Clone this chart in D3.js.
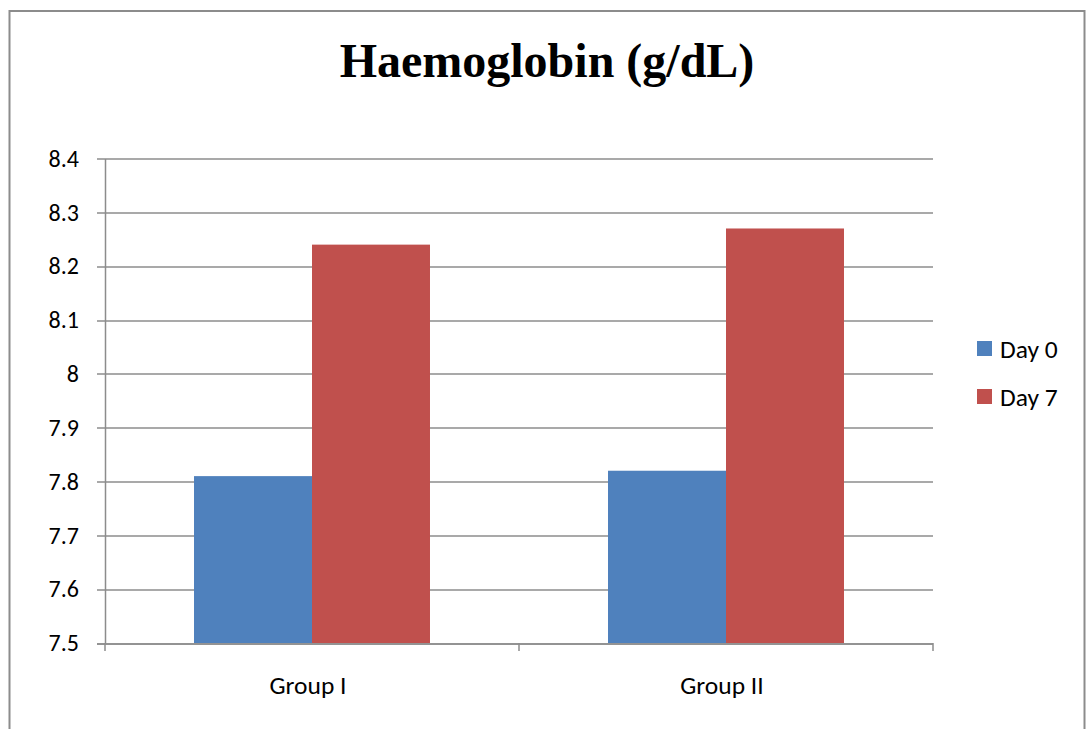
<!DOCTYPE html>
<html>
<head>
<meta charset="utf-8">
<script src="https://cdn.jsdelivr.net/npm/d3@7"></script>
<style>
  body { margin: 0; background: #fff; }
  svg text { font-family: Carlito, "Open Sans", "Noto Sans", sans-serif; }
</style>
</head>
<body>
<div id="chart"></div>
<script>
var groups = ["Group I", "Group II"];
var seriesNames = ["Day 0", "Day 7"];
var day0 = [7.81, 7.82];
var day7 = [8.24, 8.27];
var yTicks = [7.5, 7.6, 7.7, 7.8, 7.9, 8, 8.1, 8.2, 8.3, 8.4];

var colors = {"Day 0": "#4f81bd", "Day 7": "#c0504d"};

var W = 1088, H = 729;
var margin = {top: 158.5, left: 105, right: 155, bottom: 86};
var width = W - margin.left - margin.right,
    height = H - margin.top - margin.bottom;

var data = groups.map(function(g, i) {
  return {group: g, values: [
    {key: "Day 0", value: day0[i]},
    {key: "Day 7", value: day7[i]}
  ]};
});

var svg = d3.select("#chart").append("svg")
    .attr("width", W)
    .attr("height", H);

// outer frame
svg.append("rect")
  .attr("x", 9.5).attr("y", 11)
  .attr("width", 1075).attr("height", 740)
  .attr("fill", "none")
  .attr("stroke", "#8c8c8c")
  .attr("stroke-width", 2);

svg.append("text")
  .attr("x", 547).attr("y", 77)
  .attr("text-anchor", "middle")
  .style("font-family", "'Liberation Serif', 'Times New Roman', serif")
  .style("font-weight", "bold")
  .style("font-size", "48px")
  .text("Haemoglobin (g/dL)");

var g = svg.append("g")
  .attr("transform", "translate(" + margin.left + "," + margin.top + ")");

var y = d3.scaleLinear().domain([7.5, 8.4]).range([height, 0]);
var x0 = d3.scaleBand().domain(groups).range([0, width]).paddingInner(0.43).paddingOuter(0.215);
var x1 = d3.scaleBand().domain(seriesNames).range([0, x0.bandwidth()]);

// gridlines
g.append("g")
  .selectAll("line")
  .data(yTicks)
  .enter().append("line")
  .attr("x1", -8).attr("x2", width)
  .attr("y1", function(d) { return Math.round(y(d)) + 0.5; })
  .attr("y2", function(d) { return Math.round(y(d)) + 0.5; })
  .attr("stroke", "#8c8c8c")
  .attr("stroke-width", 1.5);

var yAxis = d3.axisLeft(y).tickValues(yTicks).tickSize(0).tickPadding(26)
  .tickFormat(function(d) { return d3.format("")(+d.toFixed(1)); });
g.append("g").call(yAxis)
  .call(function(s) { s.select(".domain").attr("stroke", "#8c8c8c").attr("stroke-width", 1.5); })
  .selectAll("text")
  .style("font-size", "24px")
  .attr("fill", "#000");

// x axis with outer ticks at category boundaries
var bounds = d3.scaleLinear().domain([0, groups.length]).range([0, width]);
var xb = g.append("g").attr("transform", "translate(0," + height + ")");
xb.selectAll("line")
  .data(d3.range(groups.length + 1))
  .enter().append("line")
  .attr("x1", function(d) { return bounds(d); })
  .attr("x2", function(d) { return bounds(d); })
  .attr("y1", 0).attr("y2", 8)
  .attr("stroke", "#8c8c8c")
  .attr("stroke-width", 1.5);
xb.selectAll("text")
  .data(groups)
  .enter().append("text")
  .attr("x", function(d, i) { return bounds(i + 0.5) - 4; })
  .attr("y", 51)
  .attr("text-anchor", "middle")
  .style("font-size", "25.5px")
  .text(function(d) { return d; });

// bars
var grp = g.selectAll(".grp")
  .data(data)
  .enter().append("g")
  .attr("transform", function(d) { return "translate(" + x0(d.group) + ",0)"; });
grp.selectAll("rect")
  .data(function(d) { return d.values; })
  .enter().append("rect")
  .attr("x", function(d) { return x1(d.key); })
  .attr("width", x1.bandwidth())
  .attr("y", function(d) { return y(d.value); })
  .attr("height", function(d) { return height - y(d.value); })
  .attr("fill", function(d) { return colors[d.key]; });

// redraw baseline over bars
g.append("line")
  .attr("x1", -8).attr("x2", width)
  .attr("y1", Math.round(height) + 0.5).attr("y2", Math.round(height) + 0.5)
  .attr("stroke", "#8c8c8c").attr("stroke-width", 1.5);

// legend
var legend = svg.append("g").attr("transform", "translate(977,341)");
var items = legend.selectAll("g")
  .data(seriesNames)
  .enter().append("g")
  .attr("transform", function(d, i) { return "translate(0," + (i * 48) + ")"; });
items.append("rect")
  .attr("width", 15).attr("height", 15)
  .attr("fill", function(d) { return colors[d]; });
items.append("text")
  .attr("x", 23).attr("y", 16.5)
  .style("font-size", "25.5px")
  .text(function(d) { return d; });
</script>
</body>
</html>
